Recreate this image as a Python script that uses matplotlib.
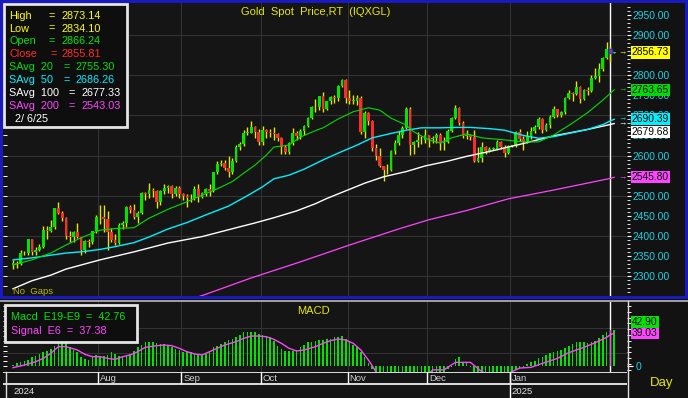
import matplotlib
matplotlib.use('Agg')
import matplotlib.pyplot as plt
import matplotlib.transforms as mtransforms
from matplotlib.patches import Rectangle
from matplotlib.lines import Line2D
import numpy as np

plt.rcParams['font.family'] = ['Liberation Sans', 'DejaVu Sans']

# ---- daily OHLC, Jul 1 2024 .. Feb 7 2025 (one bar per weekday) ----
opens = [
    2326, 2331, 2330, 2356, 2356, 2392, 2359, 2364, 2371, 2415,
    2411, 2422, 2469, 2458, 2445, 2400, 2396, 2409, 2397, 2364,
    2387, 2384, 2411, 2448, 2446, 2443, 2410, 2390, 2383, 2427,
    2431, 2472, 2465, 2447, 2456, 2507, 2504, 2513, 2512, 2484,
    2512, 2518, 2524, 2504, 2520, 2503, 2500, 2493, 2495, 2517,
    2497, 2506, 2516, 2512, 2558, 2578, 2582, 2569, 2559, 2587,
    2622, 2628, 2657, 2657, 2672, 2658, 2634, 2663, 2658, 2656,
    2653, 2644, 2622, 2608, 2630, 2657, 2649, 2662, 2674, 2693,
    2721, 2720, 2748, 2715, 2736, 2747, 2743, 2774, 2788, 2743,
    2736, 2736, 2743, 2659, 2706, 2685, 2619, 2598, 2573, 2565,
    2563, 2612, 2631, 2651, 2669, 2716, 2625, 2633, 2638, 2639,
    2650, 2640, 2643, 2650, 2632, 2633, 2660, 2694, 2718, 2681,
    2648, 2652, 2646, 2587, 2593, 2622, 2612, 2617, 2617, 2634,
    2621, 2606, 2624, 2624, 2658, 2640, 2636, 2648, 2662, 2670,
    2690, 2663, 2677, 2697, 2715, 2702, 2708, 2744, 2755, 2754,
    2771, 2740, 2763, 2760, 2794, 2798, 2815, 2843, 2866.24, 2855.81]
highs = [
    2339, 2336, 2365, 2363, 2392, 2393, 2372, 2379, 2424, 2425,
    2439, 2469, 2483, 2462, 2446, 2412, 2412, 2431, 2398, 2390,
    2393, 2413, 2451, 2477, 2477, 2462, 2420, 2405, 2431, 2438,
    2475, 2476, 2479, 2462, 2509, 2510, 2531, 2520, 2514, 2513,
    2528, 2526, 2527, 2524, 2525, 2506, 2504, 2504, 2523, 2529,
    2508, 2518, 2529, 2560, 2586, 2590, 2589, 2600, 2595, 2625,
    2634, 2664, 2670, 2685, 2674, 2666, 2673, 2665, 2667, 2670,
    2656, 2646, 2626, 2634, 2669, 2660, 2665, 2677, 2696, 2723,
    2740, 2749, 2758, 2737, 2749, 2750, 2775, 2790, 2790, 2762,
    2750, 2750, 2749, 2710, 2709, 2689, 2628, 2618, 2575, 2578,
    2614, 2639, 2660, 2674, 2721, 2721, 2637, 2658, 2648, 2665,
    2651, 2648, 2657, 2655, 2645, 2667, 2697, 2726, 2722, 2686,
    2663, 2654, 2664, 2620, 2633, 2624, 2620, 2620, 2639, 2636,
    2625, 2627, 2627, 2660, 2665, 2649, 2660, 2670, 2675, 2697,
    2693, 2680, 2700, 2724, 2716, 2712, 2745, 2763, 2758, 2786,
    2773, 2765, 2770, 2800, 2817, 2830, 2845, 2882, 2873.14, 2857]
lows = [
    2318, 2319, 2328, 2352, 2353, 2353, 2352, 2362, 2370, 2393,
    2410, 2417, 2454, 2437, 2393, 2384, 2385, 2394, 2353, 2356,
    2371, 2380, 2406, 2430, 2410, 2364, 2384, 2377, 2380, 2416,
    2423, 2456, 2441, 2431, 2455, 2490, 2495, 2496, 2470, 2477,
    2505, 2506, 2494, 2500, 2493, 2490, 2472, 2484, 2490, 2485,
    2495, 2500, 2500, 2510, 2555, 2575, 2564, 2546, 2555, 2585,
    2615, 2624, 2652, 2655, 2643, 2625, 2625, 2644, 2645, 2639,
    2637, 2605, 2604, 2603, 2626, 2639, 2641, 2652, 2670, 2690,
    2709, 2714, 2709, 2713, 2728, 2732, 2735, 2770, 2731, 2729,
    2728, 2725, 2653, 2643, 2677, 2611, 2589, 2571, 2537, 2555,
    2561, 2604, 2625, 2644, 2667, 2602, 2605, 2620, 2628, 2630,
    2622, 2630, 2632, 2614, 2613, 2630, 2658, 2690, 2676, 2643,
    2642, 2639, 2583, 2584, 2583, 2603, 2610, 2614, 2615, 2616,
    2597, 2603, 2621, 2622, 2636, 2614, 2632, 2642, 2655, 2666,
    2656, 2662, 2668, 2694, 2697, 2695, 2704, 2741, 2735, 2752,
    2730, 2738, 2750, 2758, 2790, 2782, 2810, 2840, 2834.10, 2855]
closes = [
    2331, 2330, 2356, 2356, 2392, 2359, 2364, 2371, 2415, 2411,
    2422, 2469, 2458, 2445, 2400, 2396, 2409, 2397, 2364, 2387,
    2384, 2411, 2448, 2446, 2443, 2410, 2390, 2383, 2427, 2431,
    2472, 2465, 2447, 2456, 2507, 2504, 2513, 2512, 2484, 2512,
    2518, 2524, 2504, 2520, 2503, 2500, 2493, 2495, 2517, 2497,
    2506, 2516, 2512, 2558, 2578, 2582, 2569, 2559, 2587, 2622,
    2628, 2657, 2657, 2672, 2658, 2634, 2663, 2658, 2656, 2653,
    2644, 2622, 2608, 2630, 2657, 2649, 2662, 2674, 2693, 2721,
    2720, 2748, 2715, 2736, 2747, 2743, 2774, 2788, 2743, 2736,
    2736, 2743, 2659, 2706, 2685, 2619, 2598, 2573, 2565, 2563,
    2612, 2631, 2651, 2669, 2716, 2625, 2633, 2638, 2639, 2650,
    2640, 2643, 2650, 2632, 2633, 2660, 2694, 2718, 2681, 2648,
    2652, 2646, 2587, 2593, 2622, 2612, 2617, 2617, 2634, 2621,
    2606, 2624, 2624, 2658, 2640, 2636, 2648, 2662, 2670, 2690,
    2663, 2677, 2697, 2715, 2702, 2708, 2744, 2755, 2754, 2771,
    2740, 2763, 2760, 2794, 2798, 2815, 2843, 2866.24, 2855.81, 2856.73]

# ---- moving averages (bar index, value) ----
sma20_idx = [0, 5, 10, 14, 18, 23, 27, 32, 36, 41, 45, 49, 54, 58, 61, 64, 67, 69, 73, 76,
             80, 82, 86, 90, 94, 97, 100, 104, 106, 110, 113, 116, 120, 124, 130, 135, 139,
             143, 148, 152, 156, 158, 159]
sma20_vals = [2327, 2340, 2357, 2377, 2395, 2414, 2418, 2420, 2444, 2466, 2481, 2497, 2517,
              2535, 2556, 2576, 2601, 2621, 2626, 2646, 2662, 2669, 2691, 2709, 2719, 2713,
              2693, 2676, 2659, 2639, 2631, 2644, 2654, 2644, 2639, 2634, 2634, 2651, 2681,
              2707, 2738, 2755.30, 2763.65]
sma50_idx = [0, 5, 14, 18, 23, 27, 32, 36, 41, 46, 51, 57, 62, 66, 69, 73, 77, 82, 86, 91,
             95, 100, 104, 108, 113, 117, 121, 126, 130, 135, 139, 143, 148, 152, 156, 158, 159]
sma50_vals = [2340, 2345, 2357, 2360, 2366, 2373, 2383, 2397, 2417, 2433, 2452, 2474, 2500,
              2522, 2542, 2551, 2566, 2589, 2606, 2626, 2644, 2655, 2663, 2669, 2669, 2670,
              2670, 2667, 2663, 2650, 2643, 2647, 2657, 2665, 2677, 2686.26, 2690.39]
sma100_idx = [0, 5, 10, 14, 23, 32, 41, 50, 59, 64, 69, 75, 80, 83, 88, 93, 98, 104, 109,
              115, 120, 126, 135, 143, 152, 158, 159]
sma100_vals = [2268, 2288, 2302, 2317, 2340, 2360, 2382, 2398, 2420, 2432, 2445, 2462, 2480,
               2493, 2512, 2531, 2547, 2560, 2574, 2586, 2598, 2610, 2630, 2649, 2665,
               2677.33, 2679.68]
sma200_idx = [45, 50, 63, 76, 89, 102, 110, 120, 131, 143, 158, 159]
sma200_vals = [2236, 2251, 2295, 2335, 2377, 2417, 2440, 2463, 2492, 2514, 2543.03, 2545.80]

# ---- MACD (E19-E9) histogram and E6 signal ----
macd_hist = [
    1, 3, 5, 6, 7, 10, 12, 14, 17, 18,
    20, 24, 29, 31, 29, 23, 19, 16, 11, 8,
    7, 11, 13, 12, 12, 13, 16, 14, 12, 12,
    12, 14, 18, 23, 25, 28, 28, 28, 27, 26,
    26, 24, 23, 20, 19, 17, 17, 16, 14, 14,
    13, 14, 18, 22, 24, 26, 29, 31, 32, 35,
    37, 40, 41, 41, 40, 38, 37, 36, 34, 30,
    24, 20, 18, 18, 18, 19, 22, 25, 28, 29,
    30, 31, 31, 32, 32, 34, 35, 36, 32, 29,
    25, 22, 16, 10, 3, -4, -10, -16, -21, -24,
    -23, -20, -16, -12, -8, -10, -11, -11, -10, -10,
    -10, -9, -8, -9, -8, -4, -1, 8, 10, 5,
    4, -2, -9, -13, -13, -13, -12, -11, -10, -10,
    -10, -9, -8, -5, -4, -1, 2, 4, 6, 9,
    11, 13, 15, 17, 18, 19, 21, 24, 26, 28,
    29, 28, 27, 28, 30, 33, 37, 40, 42.76, 42.90]
signal_idx = [0, 3, 6, 8, 10, 12, 14, 17, 19, 21, 23, 25, 27, 29, 31, 33, 35, 38, 40, 42,
              44, 46, 48, 50, 52, 54, 56, 59, 61, 63, 65, 67, 69, 71, 73, 75, 77, 80, 82, 84,
              86, 88, 90, 92, 94, 96, 98, 104, 109, 111, 114, 117, 121, 124, 128, 132, 134,
              137, 140, 144, 147, 151, 154, 157, 158, 159]
signal_vals = [-2.4, 0.8, 4.8, 8.8, 14.9, 22.9, 22.9, 18.9, 13.7, 10.8, 10.8, 8.8, 7.6, 10.8,
               12.9, 16.9, 22.1, 24.1, 24.9, 24.1, 20.9, 16.9, 14.1, 12.9, 16.9, 20.9, 24.9,
               28.9, 32.9, 35.7, 35.7, 34.9, 31.7, 26.9, 20.9, 17.7, 18.9, 22.9, 26.9, 30.1,
               32.1, 30.9, 26.9, 18.9, 6.8, -7.2, -18, -25, -14, -5, -5, 4, 4, -7.2, -14,
               -7.2, -2.8, -2, 2.8, 8.8, 15.7, 22.1, 27.7, 34.1, 37.38, 39.03]

month_names = ['Aug', 'Sep', 'Oct', 'Nov', 'Dec', 'Jan']
month_first_bar = [23, 45, 66, 89, 110, 132]
year_names = ['2024', '2025']
year_first_bar = [0, 132]
cursor = 158
cursor_date = '2/ 6/25'

# ---- colours ----
BG = '#151515'
GRID = '#323232'
UP = '#00e400'
DOWN = '#ff2a2a'
WICK = '#e6e600'
C20, C50, C100, C200 = '#00dc00', '#00f0ff', '#ffffff', '#ff44ff'
AXTXT = '#18d2e4'

W, H = 688, 398
fig = plt.figure(figsize=(W / 100, H / 100), dpi=100, facecolor='#121212')


def px_axes(x0, y0, x1, y1):
    a = fig.add_axes([x0 / W, 1 - y1 / H, (x1 - x0) / W, (y1 - y0) / H])
    a.set_facecolor(BG)
    for s in a.spines.values():
        s.set_visible(False)
    return a


def ftext(x, y, s, **kw):
    return fig.text(x / W, 1 - y / H, s, **kw)


def fline(xs, ys, **kw):
    fig.add_artist(Line2D([x / W for x in xs], [1 - y / H for y in ys], **kw))


XL = (-2.65, 162.4)
bounds = [b - 0.5 for b in month_first_bar]

# ================= price panel =================
ax = px_axes(3, 3, 627, 296)
ax.set_xlim(*XL)
ax.set_ylim(2250, 2980)
ax.set_xticks([])
for v in range(2300, 3000, 100):
    ax.axhline(v, color=GRID, lw=0.8, zorder=0)
for b in bounds:
    ax.axvline(b, color=GRID, lw=0.8, zorder=0)

ax.yaxis.tick_right()
ax.set_yticks(np.arange(2300, 2951, 50))
ax.set_yticklabels(['%.2f' % v for v in np.arange(2300, 2951, 50)])
ax.set_yticks(np.arange(2260, 2980, 10), minor=True)
ax.tick_params(axis='y', which='major', colors='white', labelcolor=AXTXT,
               length=3, width=0.8, labelsize=7.4, pad=1)
ax.tick_params(axis='y', which='minor', colors='white', length=2, width=0.6)
lt = mtransforms.blended_transform_factory(ax.transAxes, ax.transData)
ax.hlines(np.arange(2275, 2980, 25), 0, 0.006, transform=lt, color='white', lw=0.7)

x = np.arange(len(closes))
o = np.array(opens)
c = np.array(closes)
ax.vlines(x, lows, highs, color=WICK, lw=1, zorder=2)
body_low = np.minimum(o, c)
body_h = np.maximum(np.abs(c - o), 1.5)
cols = [UP if cc >= oo else DOWN for oo, cc in zip(o, c)]
ax.bar(x, body_h, bottom=body_low, width=0.72, color=cols, linewidth=0, zorder=3)
ax.bar([cursor], [body_h[cursor]], bottom=[body_low[cursor]], width=0.9,
       color=cols[cursor], edgecolor='#2233ff', linewidth=1, zorder=4)
ax.axvline(cursor, color='white', lw=1, zorder=1)

ax.plot(sma200_idx, sma200_vals, color=C200, lw=0.9, zorder=4)
ax.plot(sma100_idx, sma100_vals, color=C100, lw=1.0, zorder=4)
ax.plot(sma50_idx, sma50_vals, color=C50, lw=1.0, zorder=4)
ax.plot(sma20_idx, sma20_vals, color=C20, lw=0.8, zorder=4)

ftext(316, 12, 'Gold  Spot  Price,RT  (IQXGL)', color='#e8e800', fontsize=8,
      ha='center', va='center')
ftext(13, 291, 'No  Gaps', color='#b8b800', fontsize=6.8, ha='left', va='center')

# legend box
fig.add_artist(Rectangle((4 / W, 1 - 127 / H), 123 / W, 123 / H, transform=fig.transFigure,
                         facecolor='#0e0e0e', edgecolor='#e4e4e4', lw=2, zorder=5))
leg_rows = [
    ('High', highs[cursor], '#ffff00', 48, 61),
    ('Low', lows[cursor], '#ffff00', 48, 61),
    ('Open', opens[cursor], UP, 48, 61),
    ('Close', closes[cursor], DOWN, 50, 62),
    ('SAvg  20', sma20_vals[-2], C20, 63, 75),
    ('SAvg  50', sma50_vals[-2], C50, 63, 75),
    ('SAvg  100', sma100_vals[-2], C100, 68, 81),
    ('SAvg  200', sma200_vals[-2], C200, 68, 81),
]
for k, (lab, val, col, xe, xv) in enumerate(leg_rows):
    yy = 15.7 + k * 12.9
    ftext(9, yy, lab, color=col, fontsize=7.8, va='center', zorder=6)
    ftext(xe, yy, '=', color=col, fontsize=7.8, va='center', zorder=6)
    ftext(xv, yy, '%.2f' % val, color=col, fontsize=7.8, va='center', zorder=6)
ftext(15, 119, cursor_date, color='white', fontsize=7.8, va='center', zorder=6)


def stack(items, y_of, gap, push_down=True):
    # keep value tags from overlapping; either the lower tag moves down or the upper moves up
    order = sorted(items, key=lambda t: y_of(t[0]), reverse=not push_down)
    out = []
    prev = None
    for val, col in order:
        py = y_of(val)
        if prev is not None:
            if push_down and py < prev + gap:
                py = prev + gap
            if not push_down and py > prev - gap:
                py = prev - gap
        out.append((val, col, py))
        prev = py
    return out


def price_py(v):
    return 3 + (2980 - v) / (2980 - 2250) * 293


last_vals = [(closes[-1], '#ffff00'), (sma20_vals[-1], C20), (sma50_vals[-1], C50),
             (sma100_vals[-1], C100), (sma200_vals[-1], C200)]
for val, col, py in stack(last_vals, price_py, 12.5):
    ftext(632, py, '%.2f' % val, color='black', fontsize=7.4, va='center', ha='left',
          zorder=7, bbox=dict(facecolor=col, edgecolor='none', pad=0.8))
    ftext(618, price_py(val), '\u2192', color=col, fontsize=6, va='center', ha='left', zorder=7)

# ================= MACD panel =================
MY = (-7.6, 76.7)
ax2 = px_axes(3, 302, 627, 372)
ax2.set_xlim(*XL)
ax2.set_ylim(*MY)
ax2.set_xticks([])
for v in (15, 45):
    ax2.axhline(v, color=GRID, lw=0.8, zorder=0)
for b in bounds:
    ax2.axvline(b, color=GRID, lw=0.8, zorder=0)
hcols = [UP] * len(macd_hist)
hcols[cursor] = C200
ax2.bar(np.arange(len(macd_hist)), macd_hist, width=0.42, color=hcols, linewidth=0, zorder=2)
ax2.plot(signal_idx, signal_vals, color=C200, lw=1, zorder=3)
ax2.axvline(cursor, color='white', lw=1, zorder=1)
ax2.yaxis.tick_right()
ax2.set_yticks([0])
ax2.set_yticklabels(['0'])
ax2.set_yticks(np.arange(-5, 76, 7), minor=True)
ax2.tick_params(axis='y', which='major', colors='white', labelcolor=AXTXT,
                length=4, width=0.8, labelsize=7.4, pad=2)
ax2.tick_params(axis='y', which='minor', colors='white', length=3, width=0.7)
lt2 = mtransforms.blended_transform_factory(ax2.transAxes, ax2.transData)
ax2.hlines(np.arange(0, 76, 6), 0, 0.006, transform=lt2, color='white', lw=0.7)

ftext(313, 311, 'MACD', color='#e8e800', fontsize=8, ha='center', va='center')
fig.add_artist(Rectangle((5 / W, 1 - 342 / H), 132 / W, 37 / H, transform=fig.transFigure,
                         facecolor='#0e0e0e', edgecolor='#e4e4e4', lw=2, zorder=5))
ftext(11, 316.5, 'Macd  E19-E9  =  %.2f' % macd_hist[cursor], color=UP, fontsize=7.8,
      va='center', zorder=6)
ftext(11, 330.5, 'Signal  E6  =  %.2f' % signal_vals[-2], color=C200, fontsize=7.8,
      va='center', zorder=6)


def macd_py(v):
    return 302 + (MY[1] - v) / (MY[1] - MY[0]) * 70


for val, col, py in stack([(macd_hist[-1], UP), (signal_vals[-1], C200)], macd_py, 11,
                          push_down=False):
    ftext(632, py, '%.2f' % val, color='black', fontsize=7.4, va='center', ha='left',
          zorder=7, bbox=dict(facecolor=col, edgecolor='none', pad=0.8))

# ================= date axis =================
ax3 = px_axes(3, 372, 627, 398)
ax3.set_xlim(*XL)
ax3.set_ylim(26, 0)
ax3.set_xticks([])
ax3.set_yticks([])
ax3.axhline(0, color='white', lw=1.2)
ax3.axhline(11.5, color='white', lw=1.2)
for b, name in zip(bounds, month_names):
    ax3.vlines(b, 0, 11.5, color='white', lw=1)
    ax3.text(b + 0.5, 6.5, name, color='#cfcfcf', fontsize=6.8, va='center', ha='left')
for first, name in zip(year_first_bar, year_names):
    if first > 0:
        ax3.vlines(first - 0.5, 0, 26, color='white', lw=1)
        ax3.text(first - 0.1, 19, name, color='#e0e0e0', fontsize=6.8, va='center', ha='left')
    else:
        ax3.text(first + 0.1, 19, name, color='#e0e0e0', fontsize=6.8, va='center', ha='left')

ftext(662, 383, 'Day', color='#e8e800', fontsize=9.5, ha='center', va='center')

# frames
fig.add_artist(Rectangle((1 / W, 1 - 297 / H), 685 / W, 296 / H, transform=fig.transFigure,
                         fill=False, edgecolor='#1a1acc', lw=2, zorder=8))
fline([0, 688], [300.5, 300.5], color='#b8b8b8', lw=1.2, zorder=8)
fline([628, 628], [301, 398], color='#e0e0e0', lw=1, zorder=8)
fline([5.5, 5.5], [372, 398], color='#e0e0e0', lw=1, zorder=8)

fig.savefig('out.png', dpi=100, facecolor=fig.get_facecolor())
